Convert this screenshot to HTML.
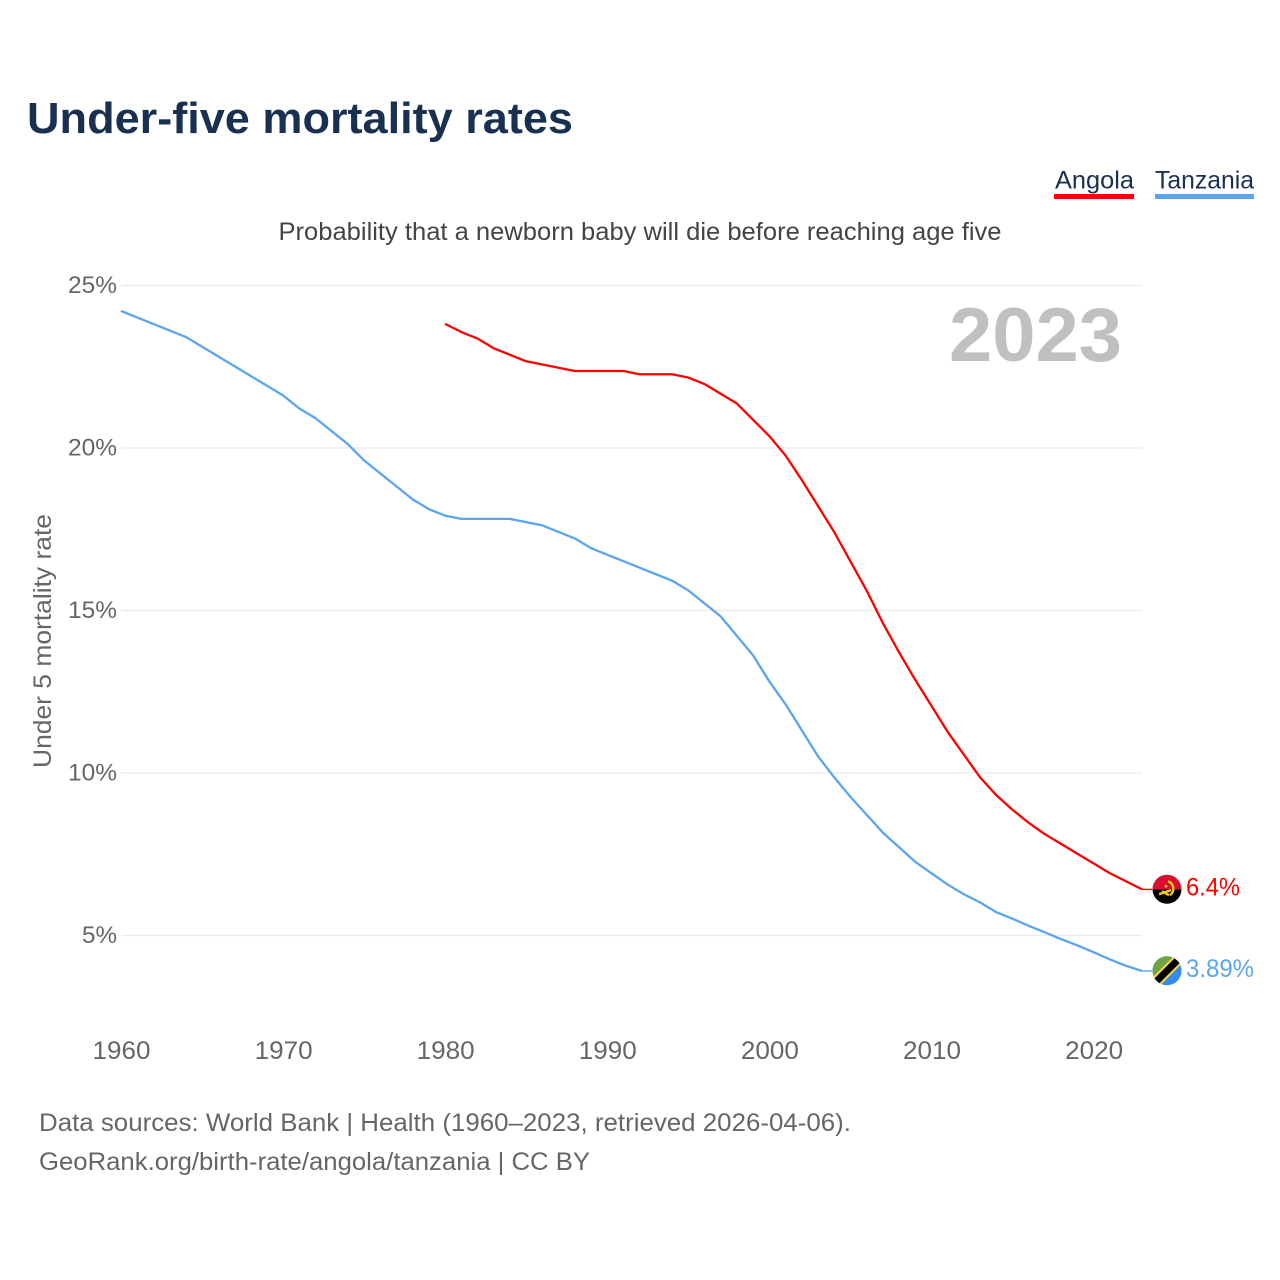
<!DOCTYPE html>
<html lang="en">
<head>
<meta charset="utf-8">
<title>Under-five mortality rates</title>
<style>
html,body{margin:0;padding:0;background:#fff;}
svg{display:block;font-family:"Liberation Sans",sans-serif;}
</style>
</head>
<body>
<svg id="chart" xmlns="http://www.w3.org/2000/svg" width="1280" height="1280" viewBox="0 0 1280 1280">
  <defs>
    <clipPath id="flag-clip-angola"><circle cx="0" cy="0" r="14.5"/></clipPath>
    <clipPath id="flag-clip-tanzania"><circle cx="0" cy="0" r="14.5"/></clipPath>
  </defs>
  <rect width="1280" height="1280" fill="#fff"/>
  <text x="27" y="133" font-size="44" font-weight="700" fill="#1a3050" textLength="546" lengthAdjust="spacingAndGlyphs">Under-five mortality rates</text>
  <text x="278.5" y="240" font-size="25" fill="#444" textLength="723" lengthAdjust="spacingAndGlyphs">Probability that a newborn baby will die before reaching age five</text>

  <g>
    <text x="1055" y="188.5" font-size="25" fill="#1a3050" textLength="79" lengthAdjust="spacingAndGlyphs">Angola</text>
    <rect x="1054" y="194" width="80" height="5" fill="#ff0000"/>
  </g>
  <g>
    <text x="1155" y="188.5" font-size="25" fill="#1a3050" textLength="99" lengthAdjust="spacingAndGlyphs">Tanzania</text>
    <rect x="1155" y="194" width="99" height="5" fill="#5ba4ee"/>
  </g>

  <text transform="translate(51,768) rotate(-90)" font-size="25" fill="#666" textLength="254" lengthAdjust="spacingAndGlyphs">Under 5 mortality rate</text>

  <g id="grid"></g>
  <g id="y-ticks"></g>
  <g id="x-ticks"></g>

  <text x="949" y="361" font-size="76" font-weight="700" fill="#c0c0c0" textLength="173" lengthAdjust="spacingAndGlyphs">2023</text>

  <g id="series" transform="translate(-0.6,-0.6)"></g>

  <g id="flag-angola">
    <g clip-path="url(#flag-clip-angola)">
      <rect x="-15" y="-15" width="30" height="15" fill="#d90f2f"/>
      <rect x="-15" y="0" width="30" height="15" fill="#000"/>
      <path d="M1 -8 A8 8 0 0 1 3 6" fill="none" stroke="#f5c518" stroke-width="2.4"/>
      <path d="M-8 5 L4 1 M-5 2 L2 6" fill="none" stroke="#f5c518" stroke-width="2.4"/>
      <circle cx="-1" cy="-3" r="1.4" fill="#f5c518"/>
    </g>
  </g>
  <g id="flag-tanzania">
    <g clip-path="url(#flag-clip-tanzania)">
      <rect x="-15" y="-15" width="30" height="30" fill="#338af3"/>
      <path d="M-15 15 L-15 -15 L15 -15 Z" fill="#6da544"/>
      <path d="M-15 15 L15 -15" stroke="#ffda44" stroke-width="11"/>
      <path d="M-15 15 L15 -15" stroke="#000" stroke-width="7"/>
    </g>
  </g>

  <g id="end-labels"></g>

  <text x="39" y="1131" font-size="25" fill="#666" textLength="812" lengthAdjust="spacingAndGlyphs">Data sources: World Bank | Health (1960–2023, retrieved 2026-04-06).</text>
  <text x="39" y="1170" font-size="25" fill="#666" textLength="551" lengthAdjust="spacingAndGlyphs">GeoRank.org/birth-rate/angola/tanzania | CC BY</text>
</svg>
<script>
const yTickValues = [5, 10, 15, 20, 25];
const xTickYears = [1960, 1970, 1980, 1990, 2000, 2010, 2020];
const tanzaniaStartYear = 1960;
const tanzaniaValues = [24.2, 24.0, 23.8, 23.6, 23.4, 23.1, 22.8, 22.5, 22.2, 21.9, 21.6, 21.2, 20.9, 20.5, 20.1, 19.6, 19.2, 18.8, 18.4, 18.1, 17.9, 17.8, 17.8, 17.8, 17.8, 17.7, 17.6, 17.4, 17.2, 16.9, 16.7, 16.5, 16.3, 16.1, 15.9, 15.6, 15.2, 14.8, 14.2, 13.6, 12.8, 12.1, 11.3, 10.5, 9.85, 9.25, 8.7, 8.15, 7.7, 7.25, 6.9, 6.55, 6.25, 6.0, 5.7, 5.5, 5.28, 5.08, 4.87, 4.68, 4.47, 4.25, 4.05, 3.89];
const angolaStartYear = 1980;
const angolaValues = [23.8, 23.55, 23.35, 23.05, 22.85, 22.65, 22.55, 22.45, 22.35, 22.35, 22.35, 22.35, 22.25, 22.25, 22.25, 22.15, 21.95, 21.65, 21.35, 20.85, 20.35, 19.75, 19.0, 18.2, 17.4, 16.5, 15.6, 14.6, 13.7, 12.85, 12.05, 11.25, 10.55, 9.85, 9.3, 8.85, 8.45, 8.1, 7.8, 7.5, 7.2, 6.9, 6.65, 6.4];

const NS = 'http://www.w3.org/2000/svg';
function xScale(year) { return 121.5 + (year - 1960) * 16.21; }
function yScale(v) { return 285.5 + (25 - v) * 32.5; }
function make(tag, attrs, parent, content) {
  const el = document.createElementNS(NS, tag);
  for (const k in attrs) el.setAttribute(k, attrs[k]);
  if (content !== undefined) el.textContent = content;
  parent.appendChild(el);
  return el;
}
const gridG = document.getElementById('grid');
const yG = document.getElementById('y-ticks');
const xG = document.getElementById('x-ticks');
const seriesG = document.getElementById('series');
const labelsG = document.getElementById('end-labels');

yTickValues.forEach(function (v) {
  const line = make('line', {x1: 121.5, x2: 1142, y1: yScale(v), y2: yScale(v), stroke: '#eaeaea', 'stroke-width': 1.3}, gridG);
  
  
  const t = make('text', {x: 117, y: yScale(v) + 7.5, 'text-anchor': 'end', 'font-size': 24.5, fill: '#666', textLength: v < 10 ? 35 : 49, lengthAdjust: 'spacingAndGlyphs'}, yG, v + '%');
  
  
});
xTickYears.forEach(function (yr) {
  const t = make('text', {x: xScale(yr), y: 1059, 'text-anchor': 'middle', 'font-size': 25, fill: '#666', textLength: 58, lengthAdjust: 'spacingAndGlyphs'}, xG, String(yr));
  
  
});
function drawSeries(values, startYear, color, flagId, labelWidth) {
  const d = values.map(function (v, i) {
    return (i ? 'L' : 'M') + xScale(startYear + i).toFixed(2) + ' ' + yScale(v).toFixed(2);
  }).join(' ');
  const path = make('path', {d: d, fill: 'none', stroke: color, 'stroke-width': 2.3, 'stroke-linejoin': 'round'}, seriesG);
  
  
  const last = values[values.length - 1];
  const lastX = xScale(startYear + values.length - 1);
  const lastY = yScale(last);
  const tail = make('line', {x1: lastX, x2: lastX + 10, y1: lastY, y2: lastY, stroke: color, 'stroke-width': 1.4}, seriesG);
  
  
  document.getElementById(flagId).setAttribute('transform', 'translate(1167,' + (lastY - 0.8) + ')');
  const label = make('text', {x: 1186, y: lastY + 5.5, 'font-size': 25, fill: color, textLength: labelWidth, lengthAdjust: 'spacingAndGlyphs'}, labelsG, last + '%');
  
  
}
drawSeries(angolaValues, angolaStartYear, '#ff0000', 'flag-angola', 54);
drawSeries(tanzaniaValues, tanzaniaStartYear, '#5ba4ee', 'flag-tanzania', 68);
</script>
</body>
</html>
